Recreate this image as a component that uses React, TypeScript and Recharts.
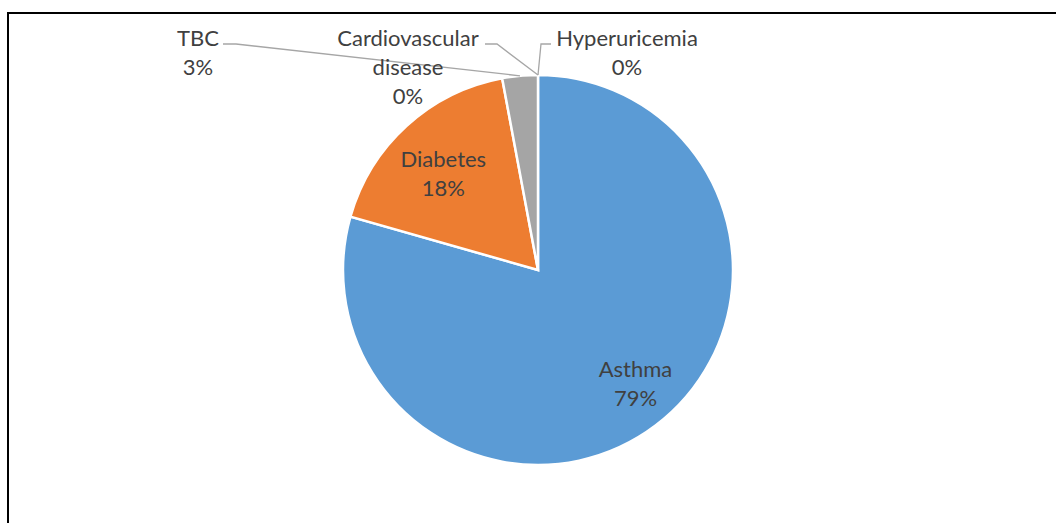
import React from 'react';
import { PieChart, Pie, Cell } from 'recharts';

const DISEASES = ['Asthma', 'Diabetes', 'TBC', 'Cardiovascular disease', 'Hyperuricemia'];
const PATIENTS = [27, 6, 1, 0, 0];
const COLORS = ['#5B9BD5', '#ED7D31', '#A5A5A5', '#FFC000', '#4472C4'];

const chartData = DISEASES.map((name, i) => ({ name, value: PATIENTS[i] }));

const TEXT_COLOR = '#404040';
const LINE_COLOR = '#A6A6A6';
const LINE_HEIGHT = 29;
const RAD = Math.PI / 180;

// label placement, relative to the pie centre
const LABEL_LAYOUT: { [key: string]: any } = {
  Asthma: { inside: true, r: 0.77, nx: 7, ny: -6, lines: ['Asthma'] },
  Diabetes: { inside: true, r: 0.69, nx: -4, ny: 3, lines: ['Diabetes'] },
  TBC: { dx: -340, dy: -232, lines: ['TBC'], lineFrom: -315, elbow: -302 },
  'Cardiovascular disease': { dx: -130, dy: -232, lines: ['Cardiovascular', 'disease'], lineFrom: -53, elbow: -41 },
  Hyperuricemia: { dx: 89, dy: -232, lines: ['Hyperuricemia'], lineFrom: 13, elbow: 3 },
};

const renderLabel = (props: any) => {
  const { cx, cy, midAngle, outerRadius, percent, name } = props;
  const cfg = LABEL_LAYOUT[name];
  if (!cfg) return null;
  const lines = [...cfg.lines, `${Math.round(percent * 100)}%`];
  const textStyle = { fontFamily: 'Lato, "Open Sans", sans-serif', fontSize: 22, fill: TEXT_COLOR };

  if (cfg.inside) {
    const r = outerRadius * cfg.r;
    const x = cx + r * Math.cos(-midAngle * RAD) + cfg.nx;
    const y = cy + r * Math.sin(-midAngle * RAD) + cfg.ny;
    const top = y - (lines.length * LINE_HEIGHT) / 2 + 22;
    return (
      <g>
        {lines.map((l, i) => (
          <text key={i} x={x} y={top + i * LINE_HEIGHT} textAnchor="middle" style={textStyle}>{l}</text>
        ))}
      </g>
    );
  }

  const ax = cx + outerRadius * Math.cos(-midAngle * RAD);
  const ay = cy + outerRadius * Math.sin(-midAngle * RAD);
  const lx = cx + cfg.dx;
  const ly = cy + cfg.dy;
  const lineY = cy - 226;
  return (
    <g>
      <polyline
        points={`${cx + cfg.lineFrom},${lineY} ${cx + cfg.elbow},${lineY} ${ax},${ay}`}
        fill="none"
        stroke={LINE_COLOR}
        strokeWidth={1.3}
      />
      {lines.map((l, i) => (
        <text key={i} x={lx} y={ly + 8 + i * LINE_HEIGHT} textAnchor="middle" style={textStyle}>{l}</text>
      ))}
    </g>
  );
};

const App: React.FC = () => {
  return (
    <div style={{ position: 'fixed', left: 0, top: 0, width: 1056, height: 523, background: '#fff', overflow: 'hidden' }}>
      <div
        style={{
          position: 'absolute',
          left: 7,
          top: 12,
          width: 1060,
          height: 520,
          borderTop: '2px solid #000',
          borderLeft: '2px solid #000',
        }}
      />
      <div style={{ position: 'absolute', left: 0, top: 0 }}>
        <PieChart width={1056} height={523} margin={{ top: 0, right: 0, bottom: 0, left: 0 }}>
          <Pie
            data={chartData}
            dataKey="value"
            nameKey="name"
            cx={538}
            cy={270}
            outerRadius={195}
            startAngle={90}
            endAngle={-270}
            stroke="#fff"
            strokeWidth={2.5}
            labelLine={false}
            label={renderLabel}
            isAnimationActive={false}
          >
            {chartData.map((entry, index) => (
              <Cell key={`cell-${index}`} fill={COLORS[index % COLORS.length]} />
            ))}
          </Pie>
        </PieChart>
      </div>
    </div>
  );
};

export default App;
